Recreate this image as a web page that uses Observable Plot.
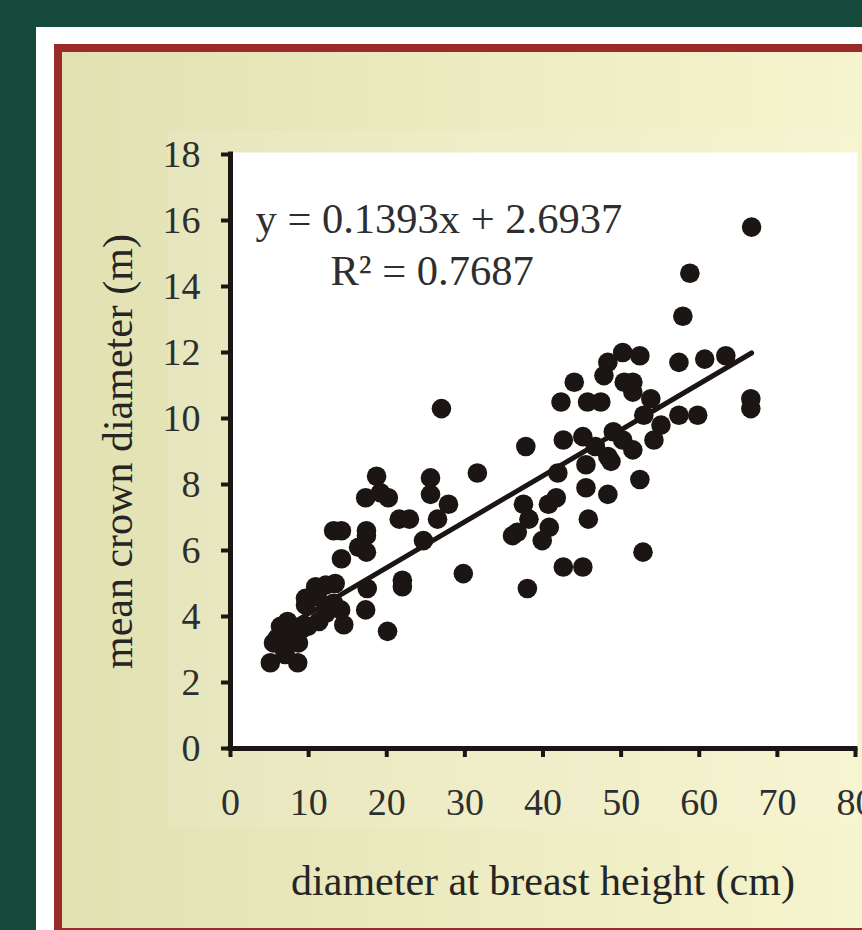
<!DOCTYPE html>
<html>
<head>
<meta charset="utf-8">
<script src="https://cdn.jsdelivr.net/npm/d3@7"></script>
<script src="https://cdn.jsdelivr.net/npm/@observablehq/plot@0.6"></script>
<style>
  html, body { margin: 0; padding: 0; }
  body { width: 862px; height: 930px; overflow: hidden; position: relative; background: #164a3d; }
  #white { position: absolute; left: 36px; top: 27px; width: 900px; height: 960px; background: #ffffff; }
  #frame { position: absolute; left: 54px; top: 44px; width: 900px; height: 892px; box-sizing: border-box;
           border: 8px solid #9b2a2b; background: linear-gradient(to right, #e1e1b2 0%, #eeecc2 50%, #f8f6cf 100%); }
  #chartarea { position: absolute; left: 168px; top: 130px; width: 690px; height: 698px; background: rgba(255,255,255,0.10); }
  #chart { position: absolute; left: 0; top: 0; }
  #chart svg { display: block; }
</style>
</head>
<body>
<div id="white"></div>
<div id="frame"></div>
<div id="chartarea"></div>
<div id="chart"></div>
<script>
// diameter at breast height (cm)
const dbh = [
  66.7, 58.8, 57.9, 66.6, 66.6, 63.4, 60.7, 57.4, 50.2, 52.4,
  48.3, 47.8, 44.0, 50.4, 51.5, 51.5, 42.3, 45.7, 47.4, 53.8,
  52.9, 57.4, 59.8, 55.1, 49.0, 42.6, 45.1, 50.2, 54.2, 37.8,
  46.7, 51.5, 48.3, 48.7, 45.5, 41.9, 52.4, 45.5, 48.3, 41.7,
  40.7, 37.5, 38.2, 45.8, 40.8, 36.1, 36.7, 39.9, 52.8, 42.6,
  45.1, 38.0, 27.0, 31.6, 18.7, 25.6, 25.6, 17.3, 19.2, 20.2,
  27.9, 21.6, 22.9, 26.5, 13.2, 14.2, 17.4, 17.4, 16.4, 17.4,
  24.7, 14.2, 29.8, 22.0, 22.0, 12.2, 10.9, 13.4, 9.6, 11.1,
  9.6, 13.2, 14.1, 12.2, 11.3, 14.5, 17.3, 17.5, 7.3, 6.4,
  6.0, 8.1, 6.8, 5.5, 8.7, 5.1, 8.6, 7.0, 9.9, 9.0, 20.1
];
// mean crown diameter (m)
const crown = [
  15.8, 14.4, 13.1, 10.6, 10.3, 11.9, 11.8, 11.7, 12.0, 11.9,
  11.7, 11.3, 11.1, 11.1, 11.1, 10.8, 10.5, 10.5, 10.5, 10.6,
  10.1, 10.1, 10.1, 9.8, 9.6, 9.35, 9.45, 9.35, 9.35, 9.15,
  9.15, 9.05, 8.85, 8.7, 8.6, 8.35, 8.15, 7.9, 7.7, 7.6,
  7.4, 7.4, 6.95, 6.95, 6.7, 6.45, 6.55, 6.3, 5.95, 5.5,
  5.5, 4.85, 10.3, 8.35, 8.25, 8.2, 7.7, 7.6, 7.75, 7.6,
  7.4, 6.95, 6.95, 6.95, 6.6, 6.6, 6.6, 6.45, 6.1, 5.95,
  6.3, 5.75, 5.3, 5.1, 4.9, 4.95, 4.9, 5.0, 4.55, 4.6,
  4.35, 4.4, 4.2, 4.1, 3.85, 3.75, 4.2, 4.85, 3.85, 3.7,
  3.35, 3.35, 3.05, 3.2, 3.2, 2.6, 2.6, 2.85, 3.7, 3.6, 3.55
];
const xTicks = [0, 10, 20, 30, 40, 50, 60, 70, 80];
const yTicks = [0, 2, 4, 6, 8, 10, 12, 14, 16, 18];
const slope = 0.1393;
const intercept = 2.6937;
const eqText = "y = 0.1393x + 2.6937";
const r2Text = "R\u00B2 = 0.7687";
const xLabel = "diameter at breast height (cm)";
const yLabel = "mean crown diameter (m)";

const data = dbh.map((x, i) => ({x, y: crown[i]}));
const xMin = d3.min(dbh), xMax = d3.max(dbh);
const fit = [xMin, xMax].map(x => ({x, y: slope * x + intercept}));

const ink = "#1b1613";
const txt = "#2e2e2e";
const chart = Plot.plot({
  width: 862,
  height: 930,
  marginLeft: 230,
  marginRight: 7,
  marginTop: 154,
  marginBottom: 182,
  x: {domain: [0, 80]},
  y: {domain: [0, 18]},
  style: {background: "transparent", fontFamily: "'Liberation Serif', 'Times New Roman', serif", overflow: "visible"},
  marks: [
    Plot.frame({fill: "#ffffff", stroke: null, inset: -2}),
    Plot.line(fit, {x: "x", y: "y", stroke: ink, strokeWidth: 5}),
    Plot.dot(data, {x: "x", y: "y", r: 9.8, fill: ink, stroke: null}),
    Plot.ruleX([0], {y1: 0, y2: 18, stroke: ink, strokeWidth: 5, strokeLinecap: "square"}),
    Plot.ruleY([0], {x1: 0, x2: 80, stroke: ink, strokeWidth: 5, strokeLinecap: "square"}),
    Plot.axisY({ticks: yTicks, tickSize: 9, tickPadding: 21, fontSize: 38, stroke: ink, strokeWidth: 4, fill: txt, label: null}),
    Plot.axisX({ticks: xTicks, tickSize: 9, tickPadding: 31, fontSize: 38, stroke: ink, strokeWidth: 4, fill: txt, label: null}),
    Plot.text([eqText], {frameAnchor: "top-left", dx: 25, dy: 48, textAnchor: "start", fontSize: 42.5, fill: txt}),
    Plot.text([r2Text], {frameAnchor: "top-left", dx: 100, dy: 100, textAnchor: "start", fontSize: 42.5, fill: txt}),
    Plot.text([xLabel], {frameAnchor: "bottom", dy: 146, fontSize: 42, fill: "#252525"}),
    Plot.text([yLabel], {frameAnchor: "left", textAnchor: "middle", dx: -112, rotate: -90, fontSize: 42, fill: "#252525"})
  ]
});
document.getElementById("chart").appendChild(chart);
</script>
</body>
</html>
